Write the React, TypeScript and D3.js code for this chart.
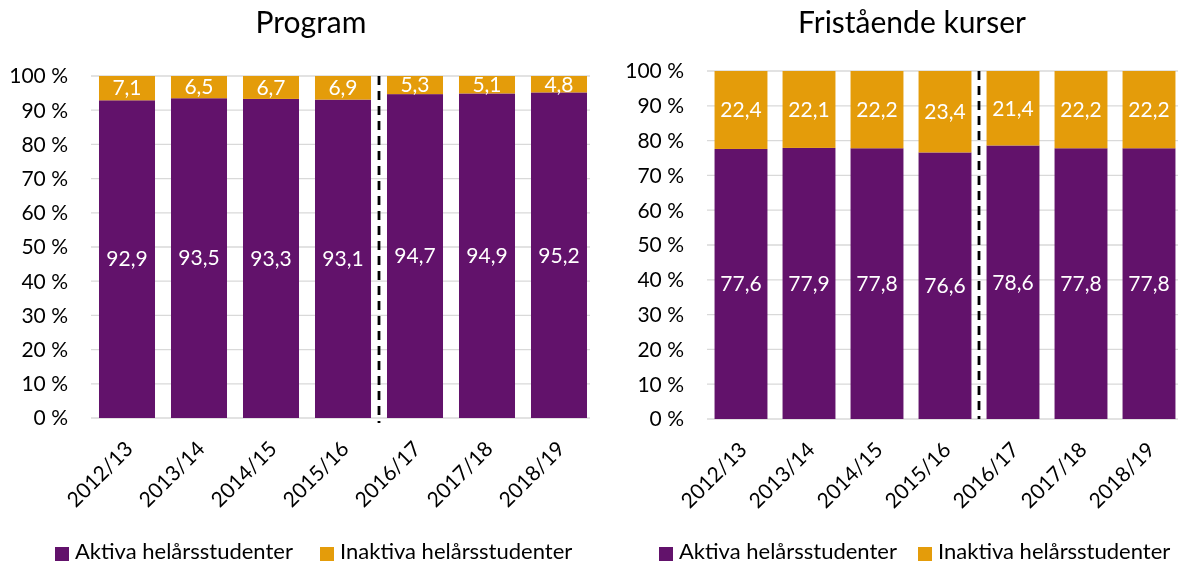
import React, { useRef, useEffect } from "react";
import * as d3 from "d3";

const years = ["2012/13", "2013/14", "2014/15", "2015/16", "2016/17", "2017/18", "2018/19"];
const programAktiva = [92.9, 93.5, 93.3, 93.1, 94.7, 94.9, 95.2];
const programInaktiva = [7.1, 6.5, 6.7, 6.9, 5.3, 5.1, 4.8];
const kurserAktiva = [77.6, 77.9, 77.8, 76.6, 78.6, 77.8, 77.8];
const kurserInaktiva = [22.4, 22.1, 22.2, 23.4, 21.4, 22.2, 22.2];
const yTicks = [0, 10, 20, 30, 40, 50, 60, 70, 80, 90, 100];
const seriesNames = ["Aktiva helårsstudenter", "Inaktiva helårsstudenter"];

const PURPLE = "#62126b";
const ORANGE = "#e49c0a";
const FONT = "Lato, 'Liberation Sans', sans-serif";

const fmt = (v: number) => v.toFixed(1).replace(".", ",");

const App = () => {
  const svgRef = useRef<SVGSVGElement>(null);

  useEffect(() => {
    const svg = d3.select(svgRef.current);
    svg.selectAll("*").remove();

    const panels = [
      {
        title: "Program",
        aktiva: programAktiva,
        inaktiva: programInaktiva,
        left: 91, right: 595, top: 76, bottom: 418, titleX: 311,
        legend: [55, 320], dashExtra: 5,
      },
      {
        title: "Fristående kurser",
        aktiva: kurserAktiva,
        inaktiva: kurserInaktiva,
        left: 707, right: 1183, top: 71, bottom: 419, titleX: 912,
        legend: [659, 918], dashExtra: 0,
      },
    ];

    panels.forEach((p) => {
      const g = svg.append("g");
      const x = d3.scaleBand().domain(years).range([p.left, p.right]).paddingInner(0.222).paddingOuter(0.111);
      const y = d3.scaleLinear().domain([0, 100]).range([p.bottom, p.top]);

      // title
      g.append("text")
        .attr("x", p.titleX)
        .attr("y", 33)
        .attr("text-anchor", "middle")
        .attr("font-size", 30)
        .attr("fill", "#000")
        .text(p.title);

      // gridlines
      g.selectAll(".grid")
        .data(yTicks)
        .enter()
        .append("line")
        .attr("x1", p.left)
        .attr("x2", p.right - 5)
        .attr("y1", (d) => y(d))
        .attr("y2", (d) => y(d))
        .attr("stroke", "#d9d9d9")
        .attr("stroke-width", 1.3);

      // y labels
      g.selectAll(".ylab")
        .data(yTicks)
        .enter()
        .append("text")
        .attr("x", p.left - 23)
        .attr("y", (d) => y(d))
        .attr("dy", "0.35em")
        .attr("text-anchor", "end")
        .attr("font-size", 21)
        .attr("fill", "#000")
        .text((d) => d + " %");

      // bars
      years.forEach((yr, i) => {
        const a = p.aktiva[i];
        const ina = p.inaktiva[i];
        const bx = x(yr)!;
        g.append("rect")
          .attr("x", bx).attr("width", x.bandwidth())
          .attr("y", y(a)).attr("height", y(0) - y(a))
          .attr("fill", PURPLE);
        g.append("rect")
          .attr("x", bx).attr("width", x.bandwidth())
          .attr("y", y(a + ina)).attr("height", y(a) - y(a + ina))
          .attr("fill", ORANGE);
        g.append("text")
          .attr("x", bx + x.bandwidth() / 2)
          .attr("y", y(a / 2))
          .attr("dy", "0.35em")
          .attr("text-anchor", "middle")
          .attr("font-size", 21)
          .attr("fill", "#fff")
          .text(fmt(a));
        g.append("text")
          .attr("x", bx + x.bandwidth() / 2)
          .attr("y", y(a + ina / 2))
          .attr("dy", "0.35em")
          .attr("text-anchor", "middle")
          .attr("font-size", 21)
          .attr("fill", "#fff")
          .text(fmt(ina));

        // x labels, rotated
        const cx = bx + x.bandwidth() / 2;
        g.append("text")
          .attr("transform", `translate(${cx + 2},${p.bottom + 27}) rotate(-45)`)
          .attr("text-anchor", "end")
          .attr("dy", "0.35em")
          .attr("font-size", 21)
          .attr("fill", "#000")
          .text(yr);
      });

      // dashed separator between 2015/16 and 2016/17
      const sepX = (x("2015/16")! + x.bandwidth() + x("2016/17")!) / 2;
      g.append("line")
        .attr("x1", sepX).attr("x2", sepX)
        .attr("y1", p.top).attr("y2", p.bottom + p.dashExtra)
        .attr("stroke", "#000")
        .attr("stroke-width", 2.8)
        .attr("stroke-dasharray", "9,6");

      // legend
      [PURPLE, ORANGE].forEach((c, k) => {
        g.append("rect")
          .attr("x", p.legend[k]).attr("y", 547)
          .attr("width", 14).attr("height", 14)
          .attr("fill", c);
        g.append("text")
          .attr("x", p.legend[k] + 20)
          .attr("y", 559)
          .attr("font-size", 22)
          .attr("fill", "#000")
          .text(seriesNames[k]);
      });
    });
  }, []);

  return (
    <div style={{ position: "fixed", left: 0, top: 0, width: 1183, height: 563, overflow: "hidden" }}>
      <svg ref={svgRef} width={1183} height={563} style={{ fontFamily: FONT, display: "block" }} />
    </div>
  );
};

export default App;
